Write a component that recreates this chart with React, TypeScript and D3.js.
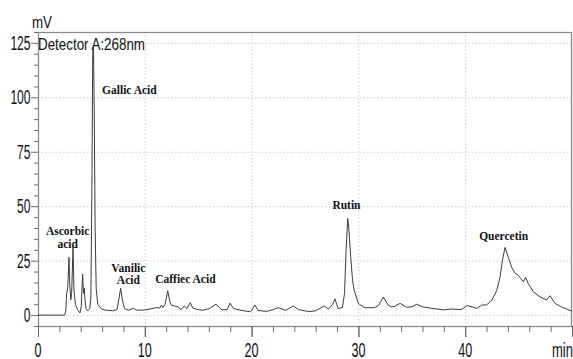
import React, { useEffect, useRef } from "react";
import * as d3 from "d3";

// retention time (min) and detector signal (mV)
const times = [
  0, 2.5, 2.6, 2.68, 2.78, 2.9, 2.98, 3.07, 3.15, 3.28, 3.36, 3.5, 3.7, 3.93, 4.05, 4.18, 4.26, 4.33, 4.4, 4.5,
  4.65, 4.85, 4.95, 5.05, 5.12, 5.15, 5.2, 5.27, 5.35, 5.45, 5.6, 5.9, 6.3, 7.0, 7.4, 7.6, 7.74, 7.9, 8.1, 8.5,
  8.93, 9.2, 10.0, 10.5, 11.1, 11.4, 11.55, 11.7, 11.9, 12.15, 12.35, 12.5, 12.8, 13.1, 13.4, 13.7, 13.95, 14.25,
  14.5, 15.0, 15.4, 16.05, 16.67, 17.2, 17.7, 17.98, 18.3, 19.0, 19.8, 20.0, 20.3, 20.6, 21.4, 22.0, 22.5, 23.2,
  23.9, 24.4, 25.4, 26.0, 26.8, 27.2, 27.6, 27.8, 28.1, 28.5, 28.7, 28.85, 29.0, 29.1, 29.28, 29.45, 29.6, 30.0,
  30.6, 31.5, 31.9, 32.33, 32.8, 33.1, 33.4, 33.9, 34.5, 35.0, 35.46, 36.0, 36.9, 37.95, 38.7, 39.6, 40.2, 41.1,
  41.54, 42.0, 42.48, 42.95, 43.26, 43.48, 43.73, 44.04, 44.35, 44.66, 44.97, 45.2, 45.44, 45.66, 45.9, 46.38,
  47.0, 47.6, 47.94, 48.4, 49.0, 49.9, 50,
];
const signal = [
  0, 0, 2, 10, 12, 26.5, 14, 7, 10, 31.4, 12, 5, 2.5, 1, 4, 18.8, 10, 12.3, 7, 3,
  2, 3, 8, 60, 118, 123, 123, 90, 40, 12, 5, 3, 2.3, 2, 2.5, 8, 12.3, 7, 3, 2.2,
  3.2, 2.3, 2.3, 2.8, 3.5, 3.2, 4.6, 3.5, 5, 11.2, 6, 4.5, 4.2, 3.8, 2.5, 4.2, 3, 5.7,
  3.2, 2.5, 2.2, 3, 5, 2.5, 2.5, 5.5, 3, 2.2, 1.6, 2, 4.7, 2.2, 1.7, 2.5, 3.4, 2.2,
  4.2, 2.5, 1.6, 2, 4.2, 2.8, 5, 7.5, 3, 3.5, 10, 30, 44.4, 40, 26.8, 16, 11.5, 5.3,
  3.4, 3.4, 4.5, 8.3, 4.5, 3.8, 4, 5.4, 3.6, 3.8, 5, 3.8, 3.1, 2.4, 2.8, 2.5, 4.4, 3.1,
  4.6, 4.7, 6.7, 11.3, 17.4, 25, 31.1, 26.5, 22, 19.3, 18.3, 16.8, 15.3, 17.3, 14.5, 10.7,
  8.4, 6.9, 8.9, 5.4, 3.8, 2, 1.8,
];

const yTicks = [0, 25, 50, 75, 100, 125];
const xTicks = [0, 10, 20, 30, 40];

// peak annotations: lines, x position (min), y position (mV)
const peakNames = [
  { lines: ["Gallic Acid"], t: 6.0, v: 101.5, anchor: "start" },
  { lines: ["Ascorbic", "acid"], t: 2.78, v: 36.6, anchor: "middle" },
  { lines: ["Vanilic", "Acid"], t: 8.46, v: 19.8, anchor: "middle" },
  { lines: ["Caffiec Acid"], t: 13.8, v: 14.7, anchor: "middle" },
  { lines: ["Rutin"], t: 28.88, v: 48.7, anchor: "middle" },
  { lines: ["Quercetin"], t: 43.6, v: 34.3, anchor: "middle" },
];

const W = 573;
const H = 359;
const sans = "'Liberation Sans', Arial, sans-serif";

const App = () => {
  const svgRef = useRef<SVGSVGElement>(null);

  useEffect(() => {
    const svg = d3.select(svgRef.current);
    svg.selectAll("*").remove();

    const x = d3.scaleLinear().domain([0, 50]).range([38, 572]);
    const y = d3.scaleLinear().domain([-5, 130]).range([326, 32]);

    // dotted grid
    svg
      .append("g")
      .selectAll("line")
      .data(yTicks)
      .enter()
      .append("line")
      .attr("x1", x(0))
      .attr("x2", x(50))
      .attr("y1", (d) => y(d) + 0.5)
      .attr("y2", (d) => y(d) + 0.5)
      .attr("stroke", "#cfcfcf")
      .attr("stroke-dasharray", "1.5,2");
    svg
      .append("g")
      .selectAll("line")
      .data(xTicks.slice(1))
      .enter()
      .append("line")
      .attr("x1", (d) => x(d) + 0.5)
      .attr("x2", (d) => x(d) + 0.5)
      .attr("y1", y(130))
      .attr("y2", y(-5))
      .attr("stroke", "#cfcfcf")
      .attr("stroke-dasharray", "1.5,2");

    // frame
    svg
      .append("rect")
      .attr("x", x(0) + 0.5)
      .attr("y", y(130) + 0.5)
      .attr("width", x(50) - x(0) - 1)
      .attr("height", y(-5) - y(130))
      .attr("fill", "none")
      .attr("stroke", "#8a8a8a")
      .attr("stroke-width", 1.3);

    // y axis ticks
    const yMinor = d3.range(-5, 131, 5);
    svg
      .append("g")
      .selectAll("line")
      .data(yMinor)
      .enter()
      .append("line")
      .attr("x1", (d) => (d % 25 === 0 ? x(0) - 7 : x(0) - 4))
      .attr("x2", x(0))
      .attr("y1", (d) => y(d) + 0.5)
      .attr("y2", (d) => y(d) + 0.5)
      .attr("stroke", "#6a6a6a");
    svg
      .append("g")
      .selectAll("text")
      .data(yTicks)
      .enter()
      .append("text")
      .attr("x", x(0) - 7.5)
      .attr("y", (d) => y(d) + 7)
      .attr("text-anchor", "end")
      .attr("font-family", sans)
      .attr("font-size", 20)
      .attr("textLength", (d) => String(d).length * 6.7)
      .attr("lengthAdjust", "spacingAndGlyphs")
      .attr("fill", "#111")
      .text((d) => d);

    // x axis ticks
    const xMinor = d3.range(0, 51, 2);
    svg
      .append("g")
      .selectAll("line")
      .data(xMinor.concat(xTicks.slice(1), [50]))
      .enter()
      .append("line")
      .attr("x1", (d) => x(d) + 0.5)
      .attr("x2", (d) => x(d) + 0.5)
      .attr("y1", y(-5))
      .attr("y2", (d) => (d % 10 === 0 ? y(-5) + 11 : y(-5) + 6))
      .attr("stroke", "#6a6a6a");
    svg
      .append("g")
      .selectAll("text")
      .data(xTicks)
      .enter()
      .append("text")
      .attr("x", (d) => x(d))
      .attr("y", 357)
      .attr("text-anchor", "middle")
      .attr("font-family", sans)
      .attr("font-size", 19.5)
      .attr("textLength", (d) => String(d).length * 7)
      .attr("lengthAdjust", "spacingAndGlyphs")
      .attr("fill", "#111")
      .text((d) => d);

    svg
      .append("text")
      .attr("x", 552)
      .attr("y", 357)
      .attr("font-family", sans)
      .attr("font-size", 19.5)
      .attr("textLength", 21)
      .attr("lengthAdjust", "spacingAndGlyphs")
      .attr("fill", "#111")
      .text("min");
    svg
      .append("text")
      .attr("x", 32)
      .attr("y", 28)
      .attr("font-family", sans)
      .attr("font-size", 16)
      .attr("textLength", 20)
      .attr("lengthAdjust", "spacingAndGlyphs")
      .attr("fill", "#111")
      .text("mV");
    svg
      .append("text")
      .attr("x", 38)
      .attr("y", 50)
      .attr("font-family", sans)
      .attr("font-size", 16)
      .attr("textLength", 107)
      .attr("lengthAdjust", "spacingAndGlyphs")
      .attr("fill", "#111")
      .text("Detector A:268nm");

    // chromatogram trace
    const line = d3
      .line<number>()
      .x((d) => x(d))
      .y((d, i) => y(signal[i]));
    svg
      .append("path")
      .attr("d", line(times))
      .attr("fill", "none")
      .attr("stroke", "#3c3c3c")
      .attr("stroke-width", 1)
      .attr("stroke-linejoin", "round");

    // peak labels
    const lbl = svg
      .append("g")
      .selectAll("text")
      .data(peakNames)
      .enter()
      .append("text")
      .attr("text-anchor", (d) => d.anchor)
      .attr("font-family", "'Liberation Serif', 'Times New Roman', serif")
      .attr("font-weight", "bold")
      .attr("font-size", 11.5)
      .attr("fill", "#111");
    lbl
      .selectAll("tspan")
      .data((d) => d.lines.map((s, i) => ({ s, i, d })))
      .enter()
      .append("tspan")
      .attr("x", (p) => x(p.d.t))
      .attr("y", (p) => y(p.d.v) + p.i * 12.5)
      .text((p) => p.s);
  }, []);

  return (
    <svg
      ref={svgRef}
      width={W}
      height={H}
      style={{ position: "absolute", left: 0, top: 0, background: "#fff" }}
    ></svg>
  );
};

export default App;
